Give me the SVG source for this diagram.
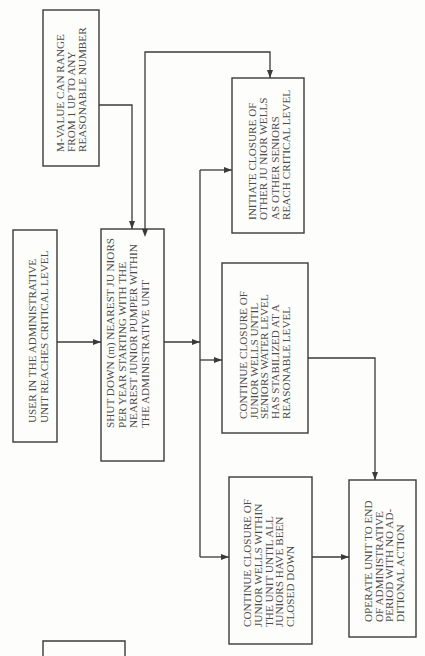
<svg xmlns="http://www.w3.org/2000/svg" width="425" height="656" viewBox="0 0 425 656">
<style>
.box{fill:none;stroke:#3a3a3a;stroke-width:1.4}
.ln{fill:none;stroke:#3a3a3a;stroke-width:1.3}
.t{font-family:"Liberation Serif","DejaVu Serif",serif;font-size:11.2px;fill:#4a4a4a}
</style>
<defs>
<marker id="ah" viewBox="0 0 8 6" refX="8" refY="3" markerWidth="8" markerHeight="6" markerUnits="userSpaceOnUse" orient="auto">
<path d="M0,0 L8,3 L0,6 Z" fill="#3a3a3a"/>
</marker>
<marker id="ahs" viewBox="0 0 8 6" refX="0" refY="3" markerWidth="8" markerHeight="6" markerUnits="userSpaceOnUse" orient="auto-start-reverse">
<path d="M0,0 L8,3 L0,6 Z" fill="#3a3a3a"/>
</marker>
</defs>
<rect width="425" height="656" fill="#fdfdfb"/>

<g id="connectors">
<path class="ln" d="M57,342 H101" marker-end="url(#ah)"/>
<path class="ln" d="M99,105 H132 V229" marker-end="url(#ah)"/>
<path class="ln" d="M145,229 V52 H270 V78" marker-start="url(#ahs)" marker-end="url(#ah)"/>
<path class="ln" d="M164,342 H200" marker-end="url(#ah)"/>
<path class="ln" d="M200,170 V557"/>
<path class="ln" d="M200,170 H232" marker-end="url(#ah)"/>
<path class="ln" d="M200,360 H222" marker-end="url(#ah)"/>
<path class="ln" d="M200,557 H229" marker-end="url(#ah)"/>
<path class="ln" d="M308,358 H375 V480" marker-end="url(#ah)"/>
<path class="ln" d="M312,557 H349" marker-end="url(#ah)"/>
</g>

<g id="mvalue">
<rect class="box" x="43" y="10" width="56" height="156"/>
<text class="t" transform="translate(64,152) rotate(-90)"><tspan x="0" y="0">M-VALUE CAN RANGE</tspan><tspan x="0" dy="11">FROM 1 UP TO ANY</tspan><tspan x="0" dy="11">REASONABLE NUMBER</tspan></text>
</g>

<g id="user">
<rect class="box" x="13" y="230" width="44" height="212"/>
<text class="t" transform="translate(36,423) rotate(-90)"><tspan x="0" y="0">USER IN THE ADMINISTRATIVE</tspan><tspan x="0" dy="11.5">UNIT REACHES CRITICAL LEVEL</tspan></text>
</g>

<g id="shutdown">
<rect class="box" x="101" y="229" width="63" height="232"/>
<text class="t" transform="translate(114,428) rotate(-90)"><tspan x="0" y="0">SHUT DOWN (m) NEAREST JU NIORS</tspan><tspan x="0" dy="11.5">PER YEAR STARTING WITH THE</tspan><tspan x="0" dy="11.5">NEAREST JUNIOR PUMPER WITHIN</tspan><tspan x="0" dy="11.5">THE ADMINISTRATIVE UNIT</tspan></text>
</g>

<g id="initiate">
<rect class="box" x="232" y="78" width="72" height="155"/>
<text class="t" transform="translate(256,220) rotate(-90)"><tspan x="0" y="0">INITIATE CLOSURE OF</tspan><tspan x="0" dy="11.3">OTHER JU NIOR WELLS</tspan><tspan x="0" dy="11.3">AS OTHER SENIORS</tspan><tspan x="0" dy="11.3">REACH CRITICAL LEVEL</tspan></text>
</g>

<g id="stabilized">
<rect class="box" x="222" y="263" width="86" height="170"/>
<text class="t" transform="translate(247,419) rotate(-90)"><tspan x="0" y="0">CONTINUE CLOSURE OF</tspan><tspan x="0" dy="10.7">JUNIOR WELLS UNTIL</tspan><tspan x="0" dy="10.7">SENIORS WATER LEVEL</tspan><tspan x="0" dy="10.7">HAS STABILIZED AT A</tspan><tspan x="0" dy="10.7">REASONABLE LEVEL</tspan></text>
</g>

<g id="closed">
<rect class="box" x="229" y="477" width="83" height="167"/>
<text class="t" transform="translate(251,627) rotate(-90)"><tspan x="0" y="0">CONTINUE CLOSURE OF</tspan><tspan x="0" dy="10.8">JUNIOR WELLS WITHIN</tspan><tspan x="0" dy="10.8">THE UNIT UNTIL ALL</tspan><tspan x="0" dy="10.8">JUNIORS HAVE BEEN</tspan><tspan x="0" dy="10.8">CLOSED DOWN</tspan></text>
</g>

<g id="operate">
<rect class="box" x="349" y="480" width="67" height="157"/>
<text class="t" transform="translate(372,622) rotate(-90)"><tspan x="0" y="0">OPERATE UNIT TO END</tspan><tspan x="0" dy="10.7">OF ADMINISTRATIVE</tspan><tspan x="0" dy="10.7">PERIOD WITH NO AD-</tspan><tspan x="0" dy="10.7">DITIONAL ACTION</tspan></text>
</g>

<g id="partial">
<path class="box" d="M43,657 V641 H125 V657"/>
</g>
</svg>
